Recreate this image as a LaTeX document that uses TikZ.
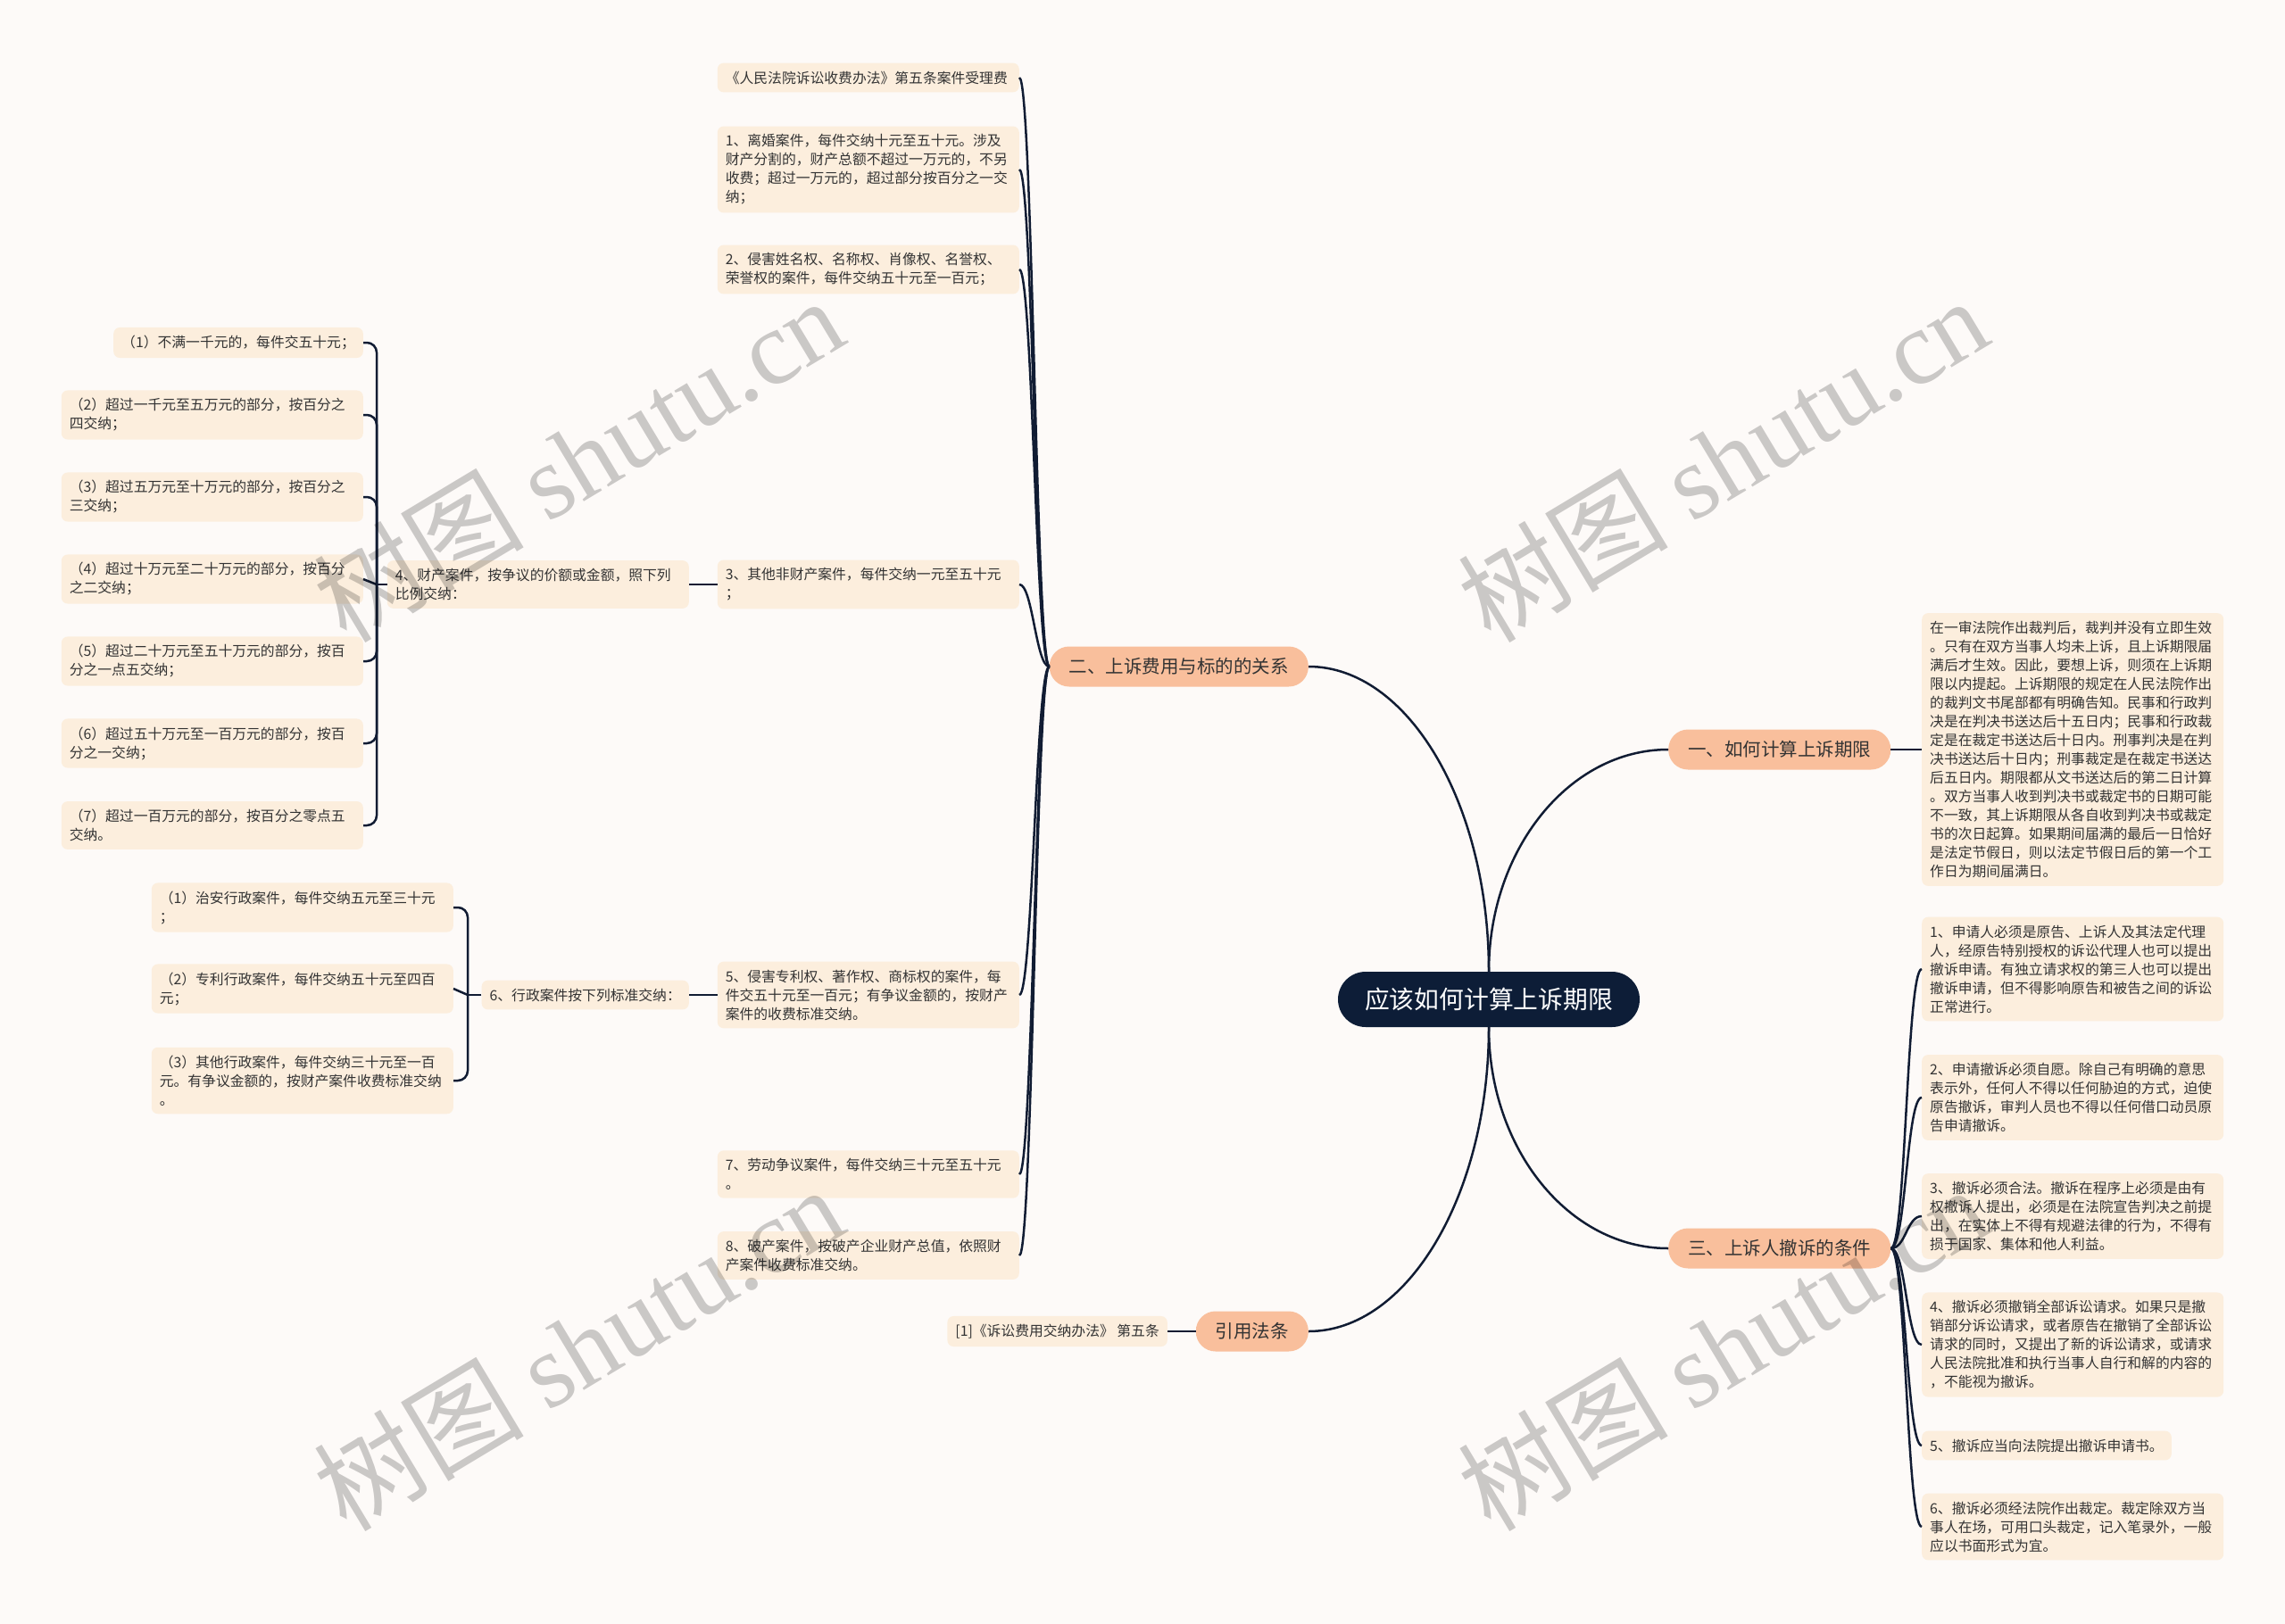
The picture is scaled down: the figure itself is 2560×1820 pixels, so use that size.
\documentclass[tikz,border=0pt]{standalone}
\usepackage{fontspec}
\setmainfont{Noto Sans CJK SC}
\newfontfamily\wmserif{Liberation Serif}
\newfontfamily\wmcjk{Noto Sans CJK SC}
\definecolor{bgc}{HTML}{FDFAF8}
\definecolor{leaffill}{HTML}{FCEEDD}
\definecolor{branchfill}{HTML}{F9BF9C}
\definecolor{rootfill}{HTML}{0D1D37}
\definecolor{linec}{HTML}{111C33}
\definecolor{txt}{HTML}{333333}
\begin{document}
\begin{tikzpicture}[x=1pt,y=-1pt,
  leaf/.style={fill=leaffill, rounded corners=7pt, inner xsep=9pt, inner ysep=9pt, align=left, text=txt, font={\fontsize{15.8}{21}\selectfont}},
  leafw/.style={leaf, text width=320pt},
  branch/.style={fill=branchfill, rounded corners=22pt, inner xsep=22pt, minimum height=45pt, text=txt, font={\fontsize{20.5}{24}\selectfont}},
  root/.style={fill=rootfill, rounded corners=31pt, inner xsep=30pt, minimum height=62pt, text=white, font={\fontsize{27.8}{32}\selectfont}},
  conn/.style={draw=linec, line width=2.5pt},
  bracket/.style={conn, rounded corners=11pt},
  wm/.style={text=black, opacity=0.2, rotate=31, font={\fontsize{118}{118}\selectfont}}
]
\fill[bgc] (0,0) rectangle (2560,1820);
\useasboundingbox (0,0) rectangle (2560,1820);

% root and branches
\node[root] (root) at (1668,1120) {应该如何计算上诉期限};
\node[branch, anchor=east] (b2) at (1466,747) {二、上诉费用与标的的关系};
\node[branch, anchor=west] (b1) at (1869,840) {一、如何计算上诉期限};
\node[branch, anchor=west] (b3) at (1869,1399) {三、上诉人撤诉的条件};
\node[branch, anchor=east] (b4) at (1466,1492) {引用法条};

% leaves of branch 2
\node[leafw, anchor=east] (L0) at (1142,87) {《人民法院诉讼收费办法》第五条案件受理费};
\node[leafw, anchor=east] (L1) at (1142,190) {1、离婚案件，每件交纳十元至五十元。涉及\\财产分割的，财产总额不超过一万元的，不另\\收费；超过一万元的，超过部分按百分之一交\\纳；};
\node[leafw, anchor=east] (L2) at (1142,302) {2、侵害姓名权、名称权、肖像权、名誉权、\\荣誉权的案件，每件交纳五十元至一百元；};
\node[leafw, anchor=east] (L3) at (1142,655) {3、其他非财产案件，每件交纳一元至五十元\\；};
\node[leafw, anchor=east] (L5) at (1142,1115) {5、侵害专利权、著作权、商标权的案件，每\\件交五十元至一百元；有争议金额的，按财产\\案件的收费标准交纳。};
\node[leafw, anchor=east] (L7) at (1142,1316) {7、劳动争议案件，每件交纳三十元至五十元\\。};
\node[leafw, anchor=east] (L8) at (1142,1407) {8、破产案件，按破产企业财产总值，依照财\\产案件收费标准交纳。};

% 4、 group
\node[leafw, anchor=east] (L4) at (772,655) {4、财产案件，按争议的价额或金额，照下列\\比例交纳：};
\node[leaf, anchor=east] (P1) at (407,384) {（1）不满一千元的，每件交五十元；};
\node[leafw, anchor=east] (P2) at (407,465) {（2）超过一千元至五万元的部分，按百分之\\四交纳；};
\node[leafw, anchor=east] (P3) at (407,557) {（3）超过五万元至十万元的部分，按百分之\\三交纳；};
\node[leafw, anchor=east] (P4) at (407,649) {（4）超过十万元至二十万元的部分，按百分\\之二交纳；};
\node[leafw, anchor=east] (P5) at (407,741) {（5）超过二十万元至五十万元的部分，按百\\分之一点五交纳；};
\node[leafw, anchor=east] (P6) at (407,833) {（6）超过五十万元至一百万元的部分，按百\\分之一交纳；};
\node[leafw, anchor=east] (P7) at (407,925) {（7）超过一百万元的部分，按百分之零点五\\交纳。};
\coordinate (k4) at (422,655);

% 6、 group
\node[leaf, anchor=east] (L6) at (772,1115) {6、行政案件按下列标准交纳：};
\node[leafw, anchor=east] (A1) at (508,1017) {（1）治安行政案件，每件交纳五元至三十元\\；};
\node[leafw, anchor=east] (A2) at (508,1108) {（2）专利行政案件，每件交纳五十元至四百\\元；};
\node[leafw, anchor=east] (A3) at (508,1211) {（3）其他行政案件，每件交纳三十元至一百\\元。有争议金额的，按财产案件收费标准交纳\\。};
\coordinate (k6) at (524,1115);

% right side
\node[leafw, anchor=west] (R0) at (2153,840) {在一审法院作出裁判后，裁判并没有立即生效\\。只有在双方当事人均未上诉，且上诉期限届\\满后才生效。因此，要想上诉，则须在上诉期\\限以内提起。上诉期限的规定在人民法院作出\\的裁判文书尾部都有明确告知。民事和行政判\\决是在判决书送达后十五日内；民事和行政裁\\定是在裁定书送达后十日内。刑事判决是在判\\决书送达后十日内；刑事裁定是在裁定书送达\\后五日内。期限都从文书送达后的第二日计算\\。双方当事人收到判决书或裁定书的日期可能\\不一致，其上诉期限从各自收到判决书或裁定\\书的次日起算。如果期间届满的最后一日恰好\\是法定节假日，则以法定节假日后的第一个工\\作日为期间届满日。};
\node[leafw, anchor=west] (R1) at (2153,1086) {1、申请人必须是原告、上诉人及其法定代理\\人，经原告特别授权的诉讼代理人也可以提出\\撤诉申请。有独立请求权的第三人也可以提出\\撤诉申请，但不得影响原告和被告之间的诉讼\\正常进行。};
\node[leafw, anchor=west] (R2) at (2153,1230) {2、申请撤诉必须自愿。除自己有明确的意思\\表示外，任何人不得以任何胁迫的方式，迫使\\原告撤诉，审判人员也不得以任何借口动员原\\告申请撤诉。};
\node[leafw, anchor=west] (R3) at (2153,1363) {3、撤诉必须合法。撤诉在程序上必须是由有\\权撤诉人提出，必须是在法院宣告判决之前提\\出，在实体上不得有规避法律的行为，不得有\\损于国家、集体和他人利益。};
\node[leafw, anchor=west] (R4) at (2153,1507) {4、撤诉必须撤销全部诉讼请求。如果只是撤\\销部分诉讼请求，或者原告在撤销了全部诉讼\\请求的同时，又提出了新的诉讼请求，或请求\\人民法院批准和执行当事人自行和解的内容的\\，不能视为撤诉。};
\node[leaf, anchor=west] (R5) at (2153,1620) {5、撤诉应当向法院提出撤诉申请书。};
\node[leafw, anchor=west] (R6) at (2153,1711) {6、撤诉必须经法院作出裁定。裁定除双方当\\事人在场，可用口头裁定，记入笔录外，一般\\应以书面形式为宜。};

% citation leaf
\node[leaf, anchor=east] (C1) at (1308,1492) {[1]《诉讼费用交纳办法》 第五条};

% connectors: root to branches
\draw[conn] (root.north) .. controls +(0,-189) and +(111,0) .. (b2.east);
\draw[conn] (root.north) .. controls +(0,-137) and +(-111,0) .. (b1.west);
\draw[conn] (root.south) .. controls +(0,137) and +(-111,0) .. (b3.west);
\draw[conn] (root.south) .. controls +(0,188) and +(111,0) .. (b4.east);

% branch 2 to leaves
\foreach \n in {L0,L1,L2,L3,L5,L7,L8}
  \draw[conn] (b2.west) .. controls +(-15,0) and +(15,0) .. (\n.east);
\draw[conn] (L3.west) -- (L4.east);
\draw[conn] (L5.west) -- (L6.east);

% bracket groups
\draw[conn] (L4.west) -- (k4);
\foreach \n in {P1,P2,P3,P5,P6,P7}
  \draw[bracket] (k4) |- (\n.east);
\draw[conn] (k4) -- (P4.east);
\draw[conn] (L6.west) -- (k6);
\foreach \n in {A1,A3}
  \draw[bracket] (k6) |- (\n.east);
\draw[conn] (k6) -- (A2.east);

% right side connectors
\draw[conn] (b1.east) -- (R0.west);
\foreach \n in {R1,R2,R3,R4,R5,R6}
  \draw[conn] (b3.east) .. controls +(17,0) and +(-17,0) .. (\n.west);
\draw[conn] (b4.west) -- (C1.east);

% watermarks
\node[wm] (w1) at (648,514) {{\wmcjk 树图} {\wmserif shutu.cn}};
\node[wm] (w2) at (1930,514) {{\wmcjk 树图} {\wmserif shutu.cn}};
\node[wm] (w3) at (648,1510) {{\wmcjk 树图} {\wmserif shutu.cn}};
\node[wm] (w4) at (1930,1510) {{\wmcjk 树图} {\wmserif shutu.cn}};
\end{tikzpicture}
\end{document}
